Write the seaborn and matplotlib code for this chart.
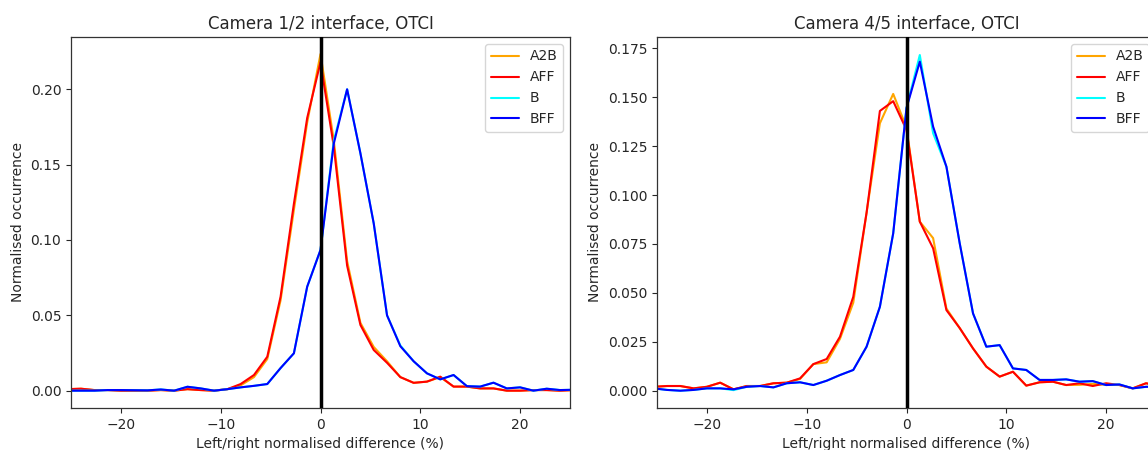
import numpy as np
import pandas as pd
import matplotlib
matplotlib.use("Agg")
import matplotlib.pyplot as plt
import seaborn as sns

# bin centres (%), bin width 4/3 %
bin_index = np.arange(-19, 20)
x_vals = bin_index * 4.0 / 3.0

series_names = ["A2B", "AFF", "B", "BFF"]
series_colors = ["orange", "red", "cyan", "blue"]

# Camera 1/2 interface
left_A2B = [0.0010, 0.0013, 0.0004, 0.0004, 0.0000, 0.0000, 0.0000, 0.0004, 0.0000, 0.0010,
            0.0004, 0.0000, 0.0010, 0.0035, 0.0090, 0.0210, 0.0600, 0.1200, 0.1780, 0.2234,
            0.1660, 0.0860, 0.0450, 0.0290, 0.0195, 0.0090, 0.0052, 0.0060, 0.0090, 0.0027,
            0.0027, 0.0015, 0.0015, 0.0000, 0.0000, 0.0004, 0.0004, 0.0000, 0.0004]
left_AFF = [0.0010, 0.0013, 0.0004, 0.0004, 0.0000, 0.0000, 0.0000, 0.0004, 0.0000, 0.0010,
            0.0004, 0.0000, 0.0010, 0.0044, 0.0104, 0.0225, 0.0624, 0.1240, 0.1810, 0.2180,
            0.1620, 0.0830, 0.0436, 0.0270, 0.0185, 0.0090, 0.0052, 0.0060, 0.0093, 0.0027,
            0.0027, 0.0015, 0.0015, 0.0000, 0.0000, 0.0004, 0.0004, 0.0000, 0.0004]
left_B = [0.0000, 0.0000, 0.0000, 0.0004, 0.0004, 0.0003, 0.0002, 0.0008, 0.0000, 0.0026,
          0.0015, 0.0000, 0.0010, 0.0022, 0.0032, 0.0044, 0.0150, 0.0248, 0.0690, 0.0934,
          0.1660, 0.2000, 0.1575, 0.1110, 0.0500, 0.0300, 0.0195, 0.0115, 0.0075, 0.0104,
          0.0030, 0.0027, 0.0053, 0.0015, 0.0022, 0.0000, 0.0013, 0.0004, 0.0006]
left_BFF = [0.0000, 0.0000, 0.0000, 0.0004, 0.0004, 0.0003, 0.0002, 0.0008, 0.0000, 0.0026,
            0.0015, 0.0000, 0.0010, 0.0022, 0.0032, 0.0044, 0.0150, 0.0248, 0.0690, 0.0934,
            0.1640, 0.2000, 0.1575, 0.1110, 0.0500, 0.0295, 0.0195, 0.0115, 0.0075, 0.0104,
            0.0030, 0.0027, 0.0053, 0.0015, 0.0022, 0.0000, 0.0013, 0.0004, 0.0006]

# Camera 4/5 interface
right_A2B = [0.0020, 0.0024, 0.0024, 0.0012, 0.0020, 0.0041, 0.0007, 0.0024, 0.0024, 0.0038,
             0.0041, 0.0060, 0.0136, 0.0145, 0.0265, 0.0450, 0.0910, 0.1367, 0.1517, 0.1345,
             0.0864, 0.0780, 0.0420, 0.0320, 0.0216, 0.0123, 0.0072, 0.0097, 0.0026, 0.0043,
             0.0046, 0.0029, 0.0030, 0.0035, 0.0030, 0.0029, 0.0012, 0.0038, 0.0025]
right_AFF = [0.0020, 0.0024, 0.0024, 0.0012, 0.0020, 0.0041, 0.0007, 0.0024, 0.0024, 0.0038,
             0.0041, 0.0063, 0.0136, 0.0162, 0.0276, 0.0480, 0.0910, 0.1430, 0.1480, 0.1333,
             0.0864, 0.0728, 0.0412, 0.0320, 0.0216, 0.0123, 0.0072, 0.0097, 0.0026, 0.0043,
             0.0046, 0.0029, 0.0038, 0.0024, 0.0038, 0.0029, 0.0012, 0.0038, 0.0025]
right_B = [0.0012, 0.0004, 0.0000, 0.0004, 0.0012, 0.0012, 0.0003, 0.0020, 0.0024, 0.0017,
           0.0038, 0.0043, 0.0029, 0.0051, 0.0080, 0.0106, 0.0225, 0.0429, 0.0804, 0.1445,
           0.1716, 0.1316, 0.1145, 0.0753, 0.0395, 0.0225, 0.0233, 0.0114, 0.0106, 0.0055,
           0.0055, 0.0058, 0.0046, 0.0049, 0.0029, 0.0032, 0.0012, 0.0020, 0.0020]
right_BFF = [0.0012, 0.0004, 0.0000, 0.0004, 0.0012, 0.0012, 0.0007, 0.0020, 0.0024, 0.0017,
             0.0038, 0.0043, 0.0029, 0.0051, 0.0080, 0.0106, 0.0225, 0.0429, 0.0804, 0.1445,
             0.1682, 0.1350, 0.1145, 0.0753, 0.0395, 0.0225, 0.0233, 0.0114, 0.0106, 0.0055,
             0.0055, 0.0058, 0.0046, 0.0049, 0.0029, 0.0032, 0.0012, 0.0020, 0.0020]

titles = ["Camera 1/2 interface, OTCI", "Camera 4/5 interface, OTCI"]
xlabel = "Left/right normalised difference (%)"
ylabel = "Normalised occurrence"


def make_df(vals):
    frames = []
    for name, v in zip(series_names, vals):
        frames.append(pd.DataFrame({"x": x_vals, "v": v, "series": name}))
    return pd.concat(frames, ignore_index=True)


sns.set_style("ticks")
plt.rcParams["font.family"] = ["DejaVu Sans"]

fig = plt.figure(figsize=(11.48, 4.5), dpi=100)
W, H = 1148.0, 450.0
ax1 = fig.add_axes([71 / W, 42 / H, 499 / W, 371 / H])
ax2 = fig.add_axes([657 / W, 42 / H, 499 / W, 371 / H])

panels = [
    (ax1, [left_A2B, left_AFF, left_B, left_BFF], (-0.0115, 0.2347)),
    (ax2, [right_A2B, right_AFF, right_B, right_BFF], (-0.00884, 0.1808)),
]

for (ax, vals, ylim), title in zip(panels, titles):
    df = make_df(vals)
    sns.lineplot(data=df, x="x", y="v", hue="series", hue_order=series_names,
                 palette=dict(zip(series_names, series_colors)), linewidth=1.5,
                 ax=ax, legend=True)
    ax.axvline(0, color="black", linewidth=2.5, zorder=10)
    ax.set_xlim(-25, 25)
    ax.set_ylim(*ylim)
    ax.set_title(title, fontsize=12)
    ax.set_xlabel(xlabel, fontsize=10)
    ax.set_ylabel(ylabel, fontsize=10)
    ax.tick_params(labelsize=10, direction="out", length=3.5)
    for s in ax.spines.values():
        s.set_visible(True)
        s.set_color("#333333")
        s.set_linewidth(0.9)
    handles, labels = ax.get_legend_handles_labels()
    ax.legend(handles, labels, loc="upper right", fontsize=10, frameon=True,
              framealpha=0.8, edgecolor="#cccccc", fancybox=True)

ax2.yaxis.set_major_formatter(matplotlib.ticker.FormatStrFormatter("%.3f"))
ax1.yaxis.set_major_formatter(matplotlib.ticker.FormatStrFormatter("%.2f"))

fig.savefig("out.png", dpi=100)
